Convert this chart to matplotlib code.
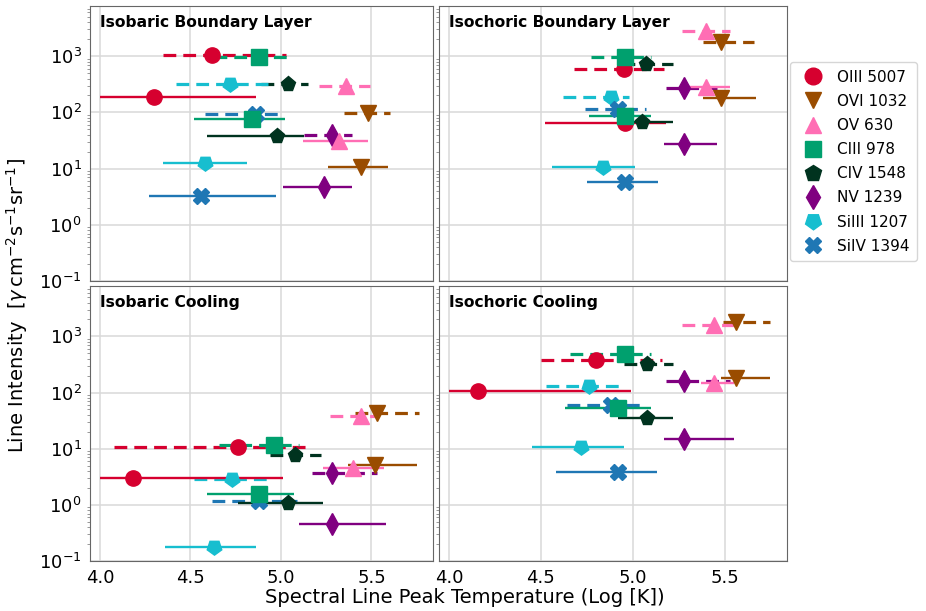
import numpy as np
import matplotlib
matplotlib.use('Agg')
import matplotlib.pyplot as plt
from matplotlib.lines import Line2D

# Линии и их оформление
species = ['OIII 5007', 'OVI 1032', 'OV 630', 'CIII 978', 'CIV 1548', 'NV 1239', 'SiIII 1207', 'SiIV 1394']
colors = ['#d6002f', '#9a4c00', '#ff6eb4', '#00a06e', '#00331f', '#800080', '#17becf', '#1f77b4']
markers = ['o', 'v', '^', 's', 'p', 'd', (5, 0, 180), 'X']

titles = ['Isobaric Boundary Layer', 'Isochoric Boundary Layer', 'Isobaric Cooling', 'Isochoric Cooling']

# Isobaric Boundary Layer
ibl_dash_t = [4.62, 5.48, 5.36, 4.88, 5.04, 5.28, 4.72, 4.86]
ibl_dash_i = [1040, 98, 300, 950, 315, 40, 325, 95]
ibl_dash_lo = [4.35, 5.35, 5.21, 4.63, 4.89, 5.13, 4.42, 4.58]
ibl_dash_hi = [5.03, 5.60, 5.49, 5.06, 5.15, 5.39, 4.93, 5.01]
ibl_sol_t = [4.30, 5.44, 5.32, 4.84, 4.98, 5.24, 4.58, 4.56]
ibl_sol_i = [190, 10.7, 31, 76, 38, 4.7, 12.6, 3.2]
ibl_sol_lo = [4.00, 5.26, 5.12, 4.52, 4.59, 5.01, 4.35, 4.27]
ibl_sol_hi = [4.86, 5.59, 5.48, 5.02, 5.13, 5.39, 4.81, 4.97]

# Isochoric Boundary Layer
icbl_dash_t = [4.95, 5.48, 5.40, 4.96, 5.07, 5.28, 4.88, 4.92]
icbl_dash_i = [580, 1820, 2780, 960, 730, 270, 187, 113]
icbl_dash_lo = [4.68, 5.38, 5.27, 4.77, 4.94, 5.18, 4.62, 4.74]
icbl_dash_hi = [5.17, 5.66, 5.53, 5.10, 5.22, 5.46, 4.98, 5.07]
icbl_sol_t = [4.96, 5.48, 5.40, 4.96, 5.05, 5.28, 4.84, 4.96]
icbl_sol_i = [66, 180, 280, 85, 67, 27, 10.7, 5.8]
icbl_sol_lo = [4.52, 5.38, 5.26, 4.76, 4.92, 5.17, 4.56, 4.75]
icbl_sol_hi = [5.18, 5.67, 5.53, 5.10, 5.22, 5.46, 5.01, 5.14]

# Isobaric Cooling
ic_dash_t = [4.76, 5.53, 5.44, 4.96, 5.08, 5.28, 4.73, 4.88]
ic_dash_i = [10.7, 43, 38, 11.5, 7.6, 3.7, 2.9, 1.18]
ic_dash_lo = [4.08, 5.41, 5.27, 4.66, 4.94, 5.17, 4.52, 4.62]
ic_dash_hi = [5.15, 5.76, 5.53, 5.10, 5.22, 5.53, 4.95, 5.09]
ic_sol_t = [4.18, 5.52, 5.40, 4.88, 5.04, 5.28, 4.63, np.nan]
ic_sol_i = [2.95, 5.2, 4.6, 1.58, 1.07, 0.46, 0.18, np.nan]
ic_sol_lo = [4.00, 5.37, 5.23, 4.59, 4.76, 5.10, 4.36, np.nan]
ic_sol_hi = [5.01, 5.75, 5.57, 5.07, 5.23, 5.58, 4.86, np.nan]

# Isochoric Cooling
icc_dash_t = [4.80, 5.56, 5.44, 4.96, 5.08, 5.28, 4.76, 4.88]
icc_dash_i = [380, 1820, 1620, 480, 316, 161, 132, 60]
icc_dash_lo = [4.50, 5.49, 5.27, 4.66, 4.95, 5.18, 4.53, 4.64]
icc_dash_hi = [5.16, 5.75, 5.55, 5.10, 5.22, 5.53, 4.96, 5.07]
icc_sol_t = [4.16, 5.56, 5.44, 4.92, 5.08, 5.28, 4.72, 4.92]
icc_sol_i = [107, 181, 150, 52, 35, 15, 10.5, 3.8]
icc_sol_lo = [4.00, 5.48, 5.37, 4.63, 4.92, 5.17, 4.45, 4.58]
icc_sol_hi = [4.99, 5.75, 5.55, 5.10, 5.22, 5.55, 4.95, 5.13]

panels = [
    (ibl_dash_t, ibl_dash_i, ibl_dash_lo, ibl_dash_hi, ibl_sol_t, ibl_sol_i, ibl_sol_lo, ibl_sol_hi),
    (icbl_dash_t, icbl_dash_i, icbl_dash_lo, icbl_dash_hi, icbl_sol_t, icbl_sol_i, icbl_sol_lo, icbl_sol_hi),
    (ic_dash_t, ic_dash_i, ic_dash_lo, ic_dash_hi, ic_sol_t, ic_sol_i, ic_sol_lo, ic_sol_hi),
    (icc_dash_t, icc_dash_i, icc_dash_lo, icc_dash_hi, icc_sol_t, icc_sol_i, icc_sol_lo, icc_sol_hi),
]

fig = plt.figure(figsize=(9.26, 6.11), dpi=100)

# Положение панелей (доли фигуры)
boxes = [
    [0.0972, 0.540, 0.3704, 0.4505],
    [0.4741, 0.540, 0.3758, 0.4505],
    [0.0972, 0.0818, 0.3704, 0.4500],
    [0.4741, 0.0818, 0.3758, 0.4500],
]


def draw_set(ax, t, inten, lo, hi, ls, lw):
    for k in range(len(species)):
        if np.isnan(t[k]):
            continue
        xerr = [[t[k] - lo[k]], [hi[k] - t[k]]]
        eb = ax.errorbar([t[k]], [inten[k]], xerr=xerr, fmt='', ls='none', marker=markers[k],
                         color=colors[k], ms=11, elinewidth=lw, capsize=0, zorder=3)
        eb[2][0].set_linestyle(ls)


for i, box in enumerate(boxes):
    ax = fig.add_axes(box)
    dt, di, dlo, dhi, st, si, slo, shi = panels[i]
    draw_set(ax, dt, di, dlo, dhi, (0, (4, 2.2)), 2.3)
    draw_set(ax, st, si, slo, shi, '-', 1.7)

    ax.set_yscale('log')
    ax.set_xlim(3.945, 5.84)
    ax.set_ylim(0.1, 7850)
    ax.set_xticks([4.0, 4.5, 5.0, 5.5])
    ax.set_yticks([0.1, 1, 10, 100, 1000])
    ax.grid(True, which='major', color='#d8d8d8', lw=1.1, zorder=0)
    ax.set_axisbelow(True)
    ax.tick_params(axis='both', which='major', labelsize=13, length=0, pad=6)
    ax.tick_params(axis='y', which='minor', length=2, color='#888888')
    for sp in ax.spines.values():
        sp.set_color('#666666')
    if i % 2 == 1:
        ax.tick_params(labelleft=False)
    if i < 2:
        ax.tick_params(labelbottom=False)
    ax.text(0.03, 0.94, titles[i], transform=ax.transAxes, fontsize=11.2,
            fontweight='bold', va='center', ha='left')

# Легенда
handles = [Line2D([], [], ls='none', marker=markers[k], color=colors[k], ms=12) for k in range(len(species))]
leg = fig.legend(handles, species, loc='upper left', bbox_to_anchor=(0.853, 0.8985),
                 fontsize=11, frameon=True, handletextpad=0.6, labelspacing=0.6,
                 borderpad=0.5, borderaxespad=0)
leg.get_frame().set_edgecolor('#cccccc')

fig.text(0.502, 0.022, 'Spectral Line Peak Temperature (Log [K])', ha='center', va='center', fontsize=14)
fig.text(0.018, 0.50, r'Line Intensity  [$\gamma\,\mathrm{cm^{-2}s^{-1}sr^{-1}}$]',
         ha='center', va='center', rotation=90, fontsize=14)

plt.savefig('out.png', dpi=100)
